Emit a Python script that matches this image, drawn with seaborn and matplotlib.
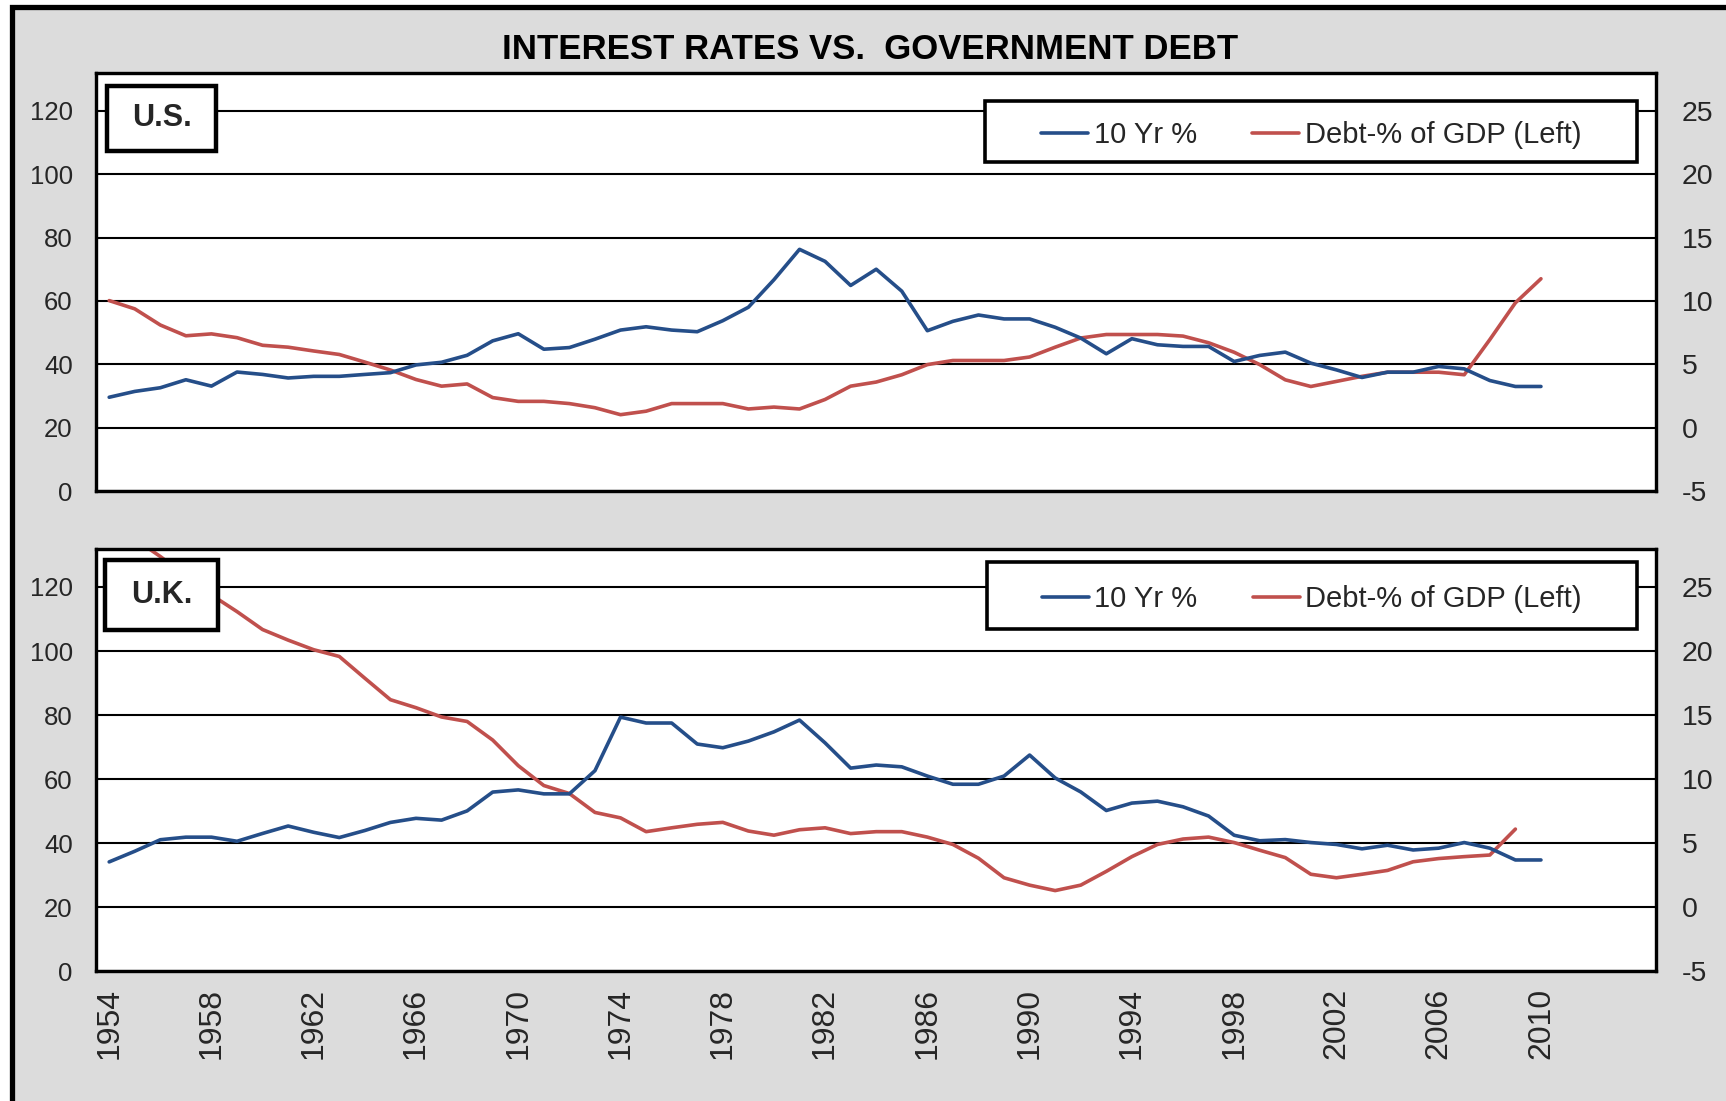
import numpy as np
import pandas as pd
import matplotlib
matplotlib.use("Agg")
import matplotlib.pyplot as plt
from matplotlib.patches import Rectangle
import seaborn as sns

# ---- data -------------------------------------------------------------
years_us = list(range(1954, 2011))
us_10yr = [2.40, 2.86, 3.15, 3.78, 3.28, 4.39, 4.20, 3.92, 4.05, 4.05,
           4.20, 4.34, 4.95, 5.16, 5.71, 6.85, 7.41, 6.19, 6.32, 6.98,
           7.70, 7.96, 7.70, 7.57, 8.44, 9.50, 11.67, 14.07, 13.12, 11.22,
           12.50, 10.77, 7.65, 8.39, 8.89, 8.58, 8.58, 7.92, 7.07, 5.83,
           7.02, 6.54, 6.41, 6.41, 5.22, 5.70, 5.96, 5.09, 4.56, 3.96,
           4.38, 4.38, 4.83, 4.64, 3.72, 3.25, 3.25]
us_debt = [60.1, 57.5, 52.4, 49.0, 49.6, 48.4, 46.0, 45.4, 44.2, 43.1,
           40.7, 38.2, 35.2, 33.1, 33.8, 29.5, 28.3, 28.3, 27.6, 26.3,
           24.1, 25.2, 27.6, 27.6, 27.6, 25.9, 26.5, 25.9, 28.9, 33.1,
           34.4, 36.7, 39.9, 41.2, 41.2, 41.2, 42.3, 45.4, 48.3, 49.4,
           49.4, 49.4, 48.9, 46.8, 43.8, 39.9, 35.1, 33.0, 34.6, 36.2,
           37.5, 37.5, 37.5, 36.7, 47.8, 59.4, 67.0]

years_uk_yield = list(range(1954, 2011))
uk_10yr = [3.54, 4.37, 5.27, 5.47, 5.47, 5.15, 5.76, 6.34, 5.85, 5.44,
           5.99, 6.62, 6.94, 6.80, 7.52, 8.99, 9.16, 8.85, 8.85, 10.66,
           14.84, 14.38, 14.38, 12.74, 12.45, 12.97, 13.69, 14.61, 12.83, 10.86,
           11.10, 10.96, 10.24, 9.60, 9.60, 10.24, 11.88, 10.09, 9.00, 7.55,
           8.13, 8.28, 7.84, 7.12, 5.62, 5.19, 5.28, 5.05, 4.90, 4.56,
           4.84, 4.47, 4.61, 5.05, 4.61, 3.69, 3.69]
years_uk_debt = list(range(1954, 2010))
uk_debt = [141.0, 135.0, 129.5, 123.5, 117.5, 112.3, 106.7, 103.4, 100.4, 98.3,
           91.5, 84.8, 82.3, 79.4, 78.0, 72.2, 64.2, 58.0, 55.5, 49.6,
           47.9, 43.6, 44.8, 45.9, 46.5, 43.8, 42.5, 44.2, 44.8, 43.0,
           43.6, 43.6, 41.9, 39.6, 35.3, 29.2, 26.9, 25.2, 26.9, 31.2,
           35.8, 39.6, 41.3, 41.9, 40.2, 37.8, 35.5, 30.3, 29.2, 30.3,
           31.5, 34.2, 35.2, 35.8, 36.3, 44.4]

title = "INTEREST RATES VS.  GOVERNMENT DEBT"
panel_names = ["U.S.", "U.K."]
series_labels = ["10 Yr %", "Debt-% of GDP (Left)"]
left_ticks = [0, 20, 40, 60, 80, 100, 120]
right_ticks = [-5, 0, 5, 10, 15, 20, 25]
x_ticks = list(range(1954, 2011, 4))

# ---- style ------------------------------------------------------------
sns.set_style("white")
plt.rcParams["font.family"] = ["Liberation Sans", "DejaVu Sans"]
plt.rcParams["axes.unicode_minus"] = False

BLUE = "#254E89"
RED = "#C0504D"
BG = "#DCDCDC"

fig = plt.figure(figsize=(17.26, 11.01), dpi=100)
fig.patch.set_facecolor("white")

# grey chart area with heavy black frame, behind both panels
frame = Rectangle((0.0067, -0.2), 1.3, 0.9932 + 0.2,
                  transform=fig.transFigure, facecolor=BG,
                  edgecolor="black", linewidth=3.8, zorder=-10)
fig.patches.append(frame)

fig.text(0.504, 0.955, title, ha="center", va="center",
         fontsize=25, fontweight="bold", color="black")

panels = [
    dict(rect=[0.05585, 0.5540, 0.9036, 0.3799], name=panel_names[0],
         yx=years_us, yv=us_10yr, dx=years_us, dv=us_debt,
         legbox=(0.5698, 0.7865, 0.418, 0.1458),
         namebox=(0.007, 0.8135, 0.0696, 0.1545), xlabels=False),
    dict(rect=[0.05585, 0.1178, 0.9036, 0.3840], name=panel_names[1],
         yx=years_uk_yield, yv=uk_10yr, dx=years_uk_debt, dv=uk_debt,
         legbox=(0.571, 0.8096, 0.4168, 0.1584),
         namebox=(0.0055, 0.8072, 0.0725, 0.1656), xlabels=True),
]

for p in panels:
    ax = fig.add_axes(p["rect"])
    ax.set_facecolor("white")
    ax2 = ax.twinx()
    ax2.patch.set_visible(False)

    df_debt = pd.DataFrame({"year": p["dx"], "value": p["dv"]})
    df_yield = pd.DataFrame({"year": p["yx"], "value": p["yv"]})

    sns.lineplot(data=df_debt, x="year", y="value", ax=ax, color=RED,
                 linewidth=2.6, label=series_labels[1], legend=False, zorder=3)
    sns.lineplot(data=df_yield, x="year", y="value", ax=ax2, color=BLUE,
                 linewidth=2.6, label=series_labels[0], legend=False, zorder=3)

    ax.set_xlim(1953.5, 2014.5)
    ax.set_ylim(0, 132)
    ax2.set_ylim(-5, 28)
    ax.set_yticks(left_ticks)
    ax2.set_yticks(right_ticks)
    ax.set_xticks(x_ticks)
    ax.set_xlabel("")
    ax.set_ylabel("")
    ax2.set_ylabel("")

    ax.grid(axis="y", color="black", linewidth=1.5)
    ax.grid(axis="x", visible=False)
    ax2.grid(False)
    ax.set_axisbelow(True)

    ax.tick_params(axis="y", length=0, pad=17, labelsize=18.5)
    ax2.tick_params(axis="y", length=0, pad=18.5, labelsize=20.5)
    if p["xlabels"]:
        ax.tick_params(axis="x", length=0, pad=12, labelsize=23,
                       labelrotation=90)
    else:
        ax.tick_params(axis="x", length=0, labelbottom=False)

    for a in (ax, ax2):
        for side, sp in a.spines.items():
            sp.set_visible(True)
            sp.set_color("black")
            sp.set_linewidth(2.3)

    # panel name tag
    nx, ny, nw, nh = p["namebox"]
    ax2.add_patch(Rectangle((nx, ny), nw, nh, transform=ax2.transAxes,
                            facecolor="white", edgecolor="black",
                            linewidth=3.2, zorder=6))
    ax2.text(nx + nw / 2, ny + nh / 2, p["name"], transform=ax2.transAxes,
             ha="center", va="center", fontsize=22, fontweight="bold",
             zorder=7)

    # legend in a boxed frame
    lx, ly, lw, lh = p["legbox"]
    ax2.add_patch(Rectangle((lx, ly), lw, lh, transform=ax2.transAxes,
                            facecolor="white", edgecolor="black",
                            linewidth=2.6, zorder=6))
    handles = ax2.get_lines()[:1] + ax.get_lines()[:1]
    leg = ax2.legend(handles, series_labels, loc="center",
                     bbox_to_anchor=(lx + lw / 2, ly + lh / 2 - 0.008),
                     bbox_transform=ax2.transAxes, ncol=2, frameon=False,
                     fontsize=21, handlelength=1.6, handletextpad=0.2,
                     columnspacing=1.9)
    leg.set_zorder(8)
    for line in leg.get_lines():
        line.set_linewidth(2.6)

fig.savefig("out.png", dpi=100, facecolor=fig.get_facecolor())
